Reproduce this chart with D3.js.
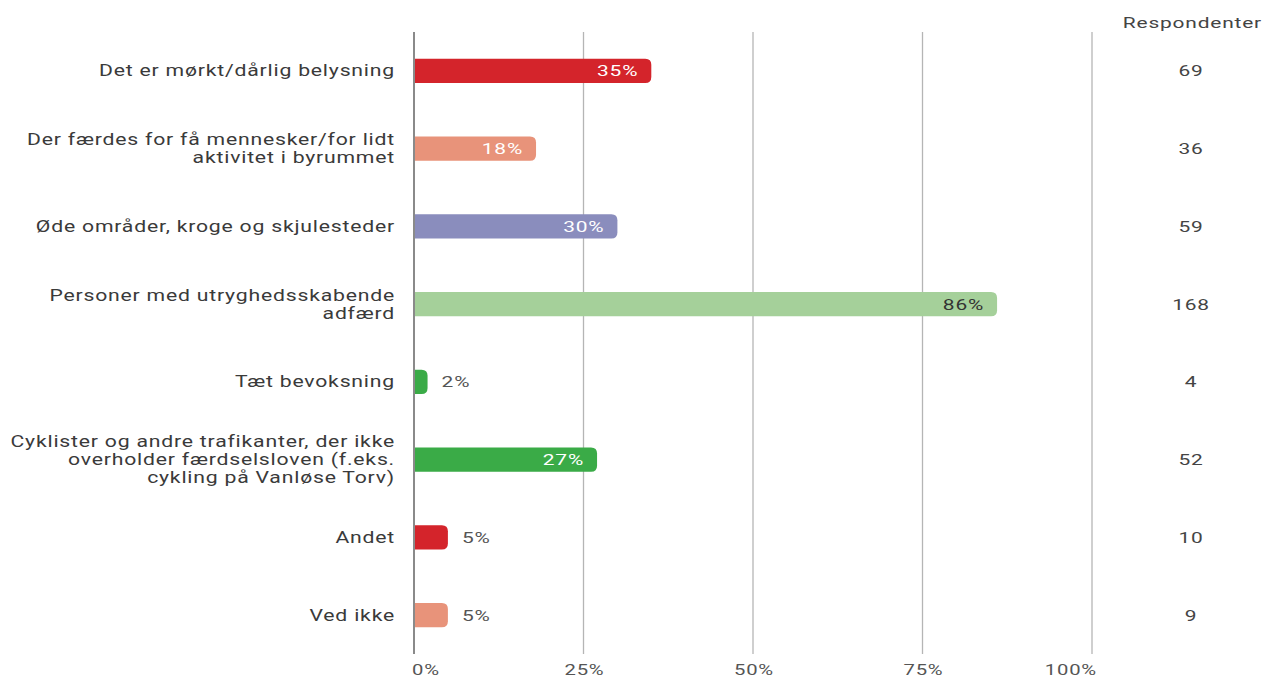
<!DOCTYPE html>
<html><head><meta charset="utf-8">
<script src="https://cdn.jsdelivr.net/npm/d3@7"></script>
<style>
body{margin:0;background:#fff;}
text{font-family:Roboto,"Open Sans",sans-serif;letter-spacing:0.6px;}
</style></head><body>
<svg id="c" width="1264" height="677"></svg>
<script>
const categories = [
  ["Det er mørkt/dårlig belysning"],
  ["Der færdes for få mennesker/for lidt","aktivitet i byrummet"],
  ["Øde områder, kroge og skjulesteder"],
  ["Personer med utryghedsskabende","adfærd"],
  ["Tæt bevoksning"],
  ["Cyklister og andre trafikanter, der ikke","overholder færdselsloven (f.eks.","cykling på Vanløse Torv)"],
  ["Andet"],
  ["Ved ikke"]
];
const percents = [35, 18, 30, 86, 2, 27, 5, 5];
const respondents = [69, 36, 59, 168, 4, 52, 10, 9];
const colors = ["#d4242b","#e8937a","#8a8dbd","#a5d09a","#3aab47","#3aab47","#d4242b","#e8937a"];
const tickValues = [0, 25, 50, 75, 100];

const SX = 1.35; // horizontal stretch of text as in the reference
const svg = d3.select("#c");
const x = d3.scaleLinear().domain([0,100]).range([414,1092]);
const y = d3.scaleBand().domain(d3.range(categories.length)).range([32,654]).paddingInner(0.69).paddingOuter(0.345);

function T(g, px, py, sx){ return g.append("text").attr("transform",`translate(${px},${py}) scale(${sx||SX},1)`); }

// grid
svg.append("g").selectAll("line").data(tickValues.slice(1)).join("line")
  .attr("x1",d=>x(d)).attr("x2",d=>x(d)).attr("y1",32).attr("y2",654)
  .attr("stroke","#b5b5b5").attr("stroke-width",1.3);

// tick labels
const tg = svg.append("g");
tickValues.forEach(d=>{
  const anchor = d===0 ? "start" : (d===100 ? "end" : "middle");
  const px = d===0 ? x(d)-2 : (d===100 ? x(d)+5 : x(d)+1);
  T(tg, px, 675).attr("text-anchor",anchor).attr("font-size",15).attr("fill","#555").text(d+"%");
});

const r = 6;
const bh = y.bandwidth();
function barPath(i){
  const x0 = x(0), x1 = x(percents[i]), y0 = y(i), h = bh;
  const rr = Math.min(r, (x1-x0));
  return `M${x0},${y0}H${x1-rr}Q${x1},${y0} ${x1},${y0+rr}V${y0+h-rr}Q${x1},${y0+h} ${x1-rr},${y0+h}H${x0}Z`;
}
svg.append("g").selectAll("path").data(d3.range(categories.length)).join("path")
  .attr("d",barPath).attr("fill",i=>colors[i]);

// axis line
svg.append("line").attr("x1",x(0)).attr("x2",x(0)).attr("y1",32).attr("y2",654)
  .attr("stroke","#8a8a8a").attr("stroke-width",2);

// value labels
const vg = svg.append("g");
percents.forEach((p,i)=>{
  const inside = p>=10;
  T(vg, inside ? x(p)-13 : x(p)+14, y(i)+bh/2+5.5)
    .attr("text-anchor", inside?"end":"start")
    .attr("font-size",15.5)
    .attr("fill", inside ? (i===3?"#333":"#fff") : "#555")
    .text(p+"%");
});

// category labels
const lh = 18;
const cg = svg.append("g");
categories.forEach((lines,i)=>{
  const cy = y(i)+bh/2;
  const start = cy - (lines.length-1)*lh/2 + 5.5;
  lines.forEach((s,k)=>{
    T(cg, 395, start+k*lh, 1.325).attr("text-anchor","end").attr("font-size",16).attr("fill","#3a3a3a").text(s);
  });
});

// respondents
T(svg, 1262, 28).attr("text-anchor","end").attr("font-size",15.5).attr("fill","#444").text("Respondenter");
const rg = svg.append("g");
respondents.forEach((d,i)=>{
  T(rg, 1191, y(i)+bh/2+5.5).attr("text-anchor","middle").attr("font-size",15.5).attr("fill","#444").text(d);
});
</script>
</body></html>
